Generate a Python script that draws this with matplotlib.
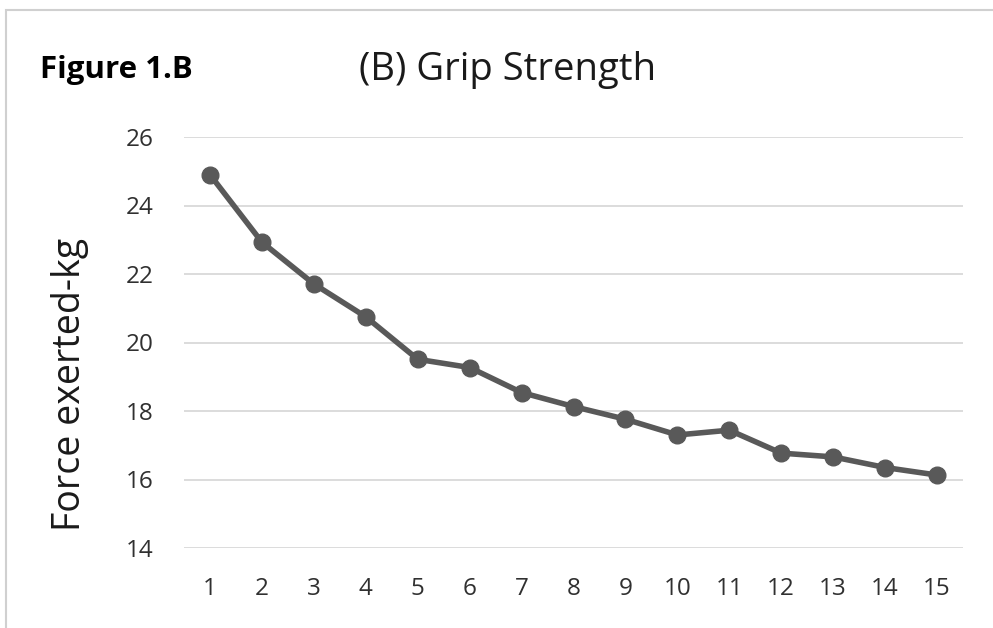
import matplotlib
matplotlib.use("Agg")
import matplotlib.pyplot as plt
from matplotlib.patches import Rectangle

categories = [str(i) for i in range(1, 16)]
force_kg = [24.90, 22.93, 21.71, 20.75, 19.51, 19.27, 18.54, 18.13, 17.76,
            17.30, 17.44, 16.77, 16.66, 16.35, 16.13]
y_ticks = [14, 16, 18, 20, 22, 24, 26]

plt.rcParams['font.family'] = ['Open Sans', 'DejaVu Sans']

fig = plt.figure(figsize=(9.93, 6.28), dpi=100)
ax = fig.add_axes([184/993, 1 - 548/628, (963 - 184)/993, (548 - 137)/628])

x = list(range(1, len(categories) + 1))
ax.plot(x, force_kg, color='#595959', linewidth=4, marker='o',
        markersize=12, zorder=3)

ax.set_xlim(0.5, 15.5)
ax.set_ylim(14, 26)
ax.set_xticks(x)
ax.set_xticklabels(categories)
ax.set_yticks(y_ticks)
ax.yaxis.grid(True, color='#d9d9d9', linewidth=1.3)
ax.set_axisbelow(True)
for s in ax.spines.values():
    s.set_visible(False)
ax.tick_params(axis='both', length=0, labelsize=17.5, colors='#303030')
ax.tick_params(axis='x', pad=21)
ax.tick_params(axis='y', pad=22)

fig.text(70/993, 1 - 384/628, 'Force exerted-kg', fontsize=27,
         rotation=90, ha='center', va='center', color='#1a1a1a')

fig.text(508/993, 1 - 70/628, '(B) Grip Strength', fontsize=27.5,
         ha='center', va='center', color='#1a1a1a')
fig.text(40/993, 1 - 70/628, 'Figure 1.B', fontsize=22.5, fontweight='bold',
         ha='left', va='center', color='#000000')

fig.patches.append(Rectangle((6/993, -0.05), 1.0, 1 - 10/628 + 0.05,
                             transform=fig.transFigure, fill=False,
                             edgecolor='#d0d0d0', linewidth=1.5))

fig.savefig('out.png', dpi=100)
